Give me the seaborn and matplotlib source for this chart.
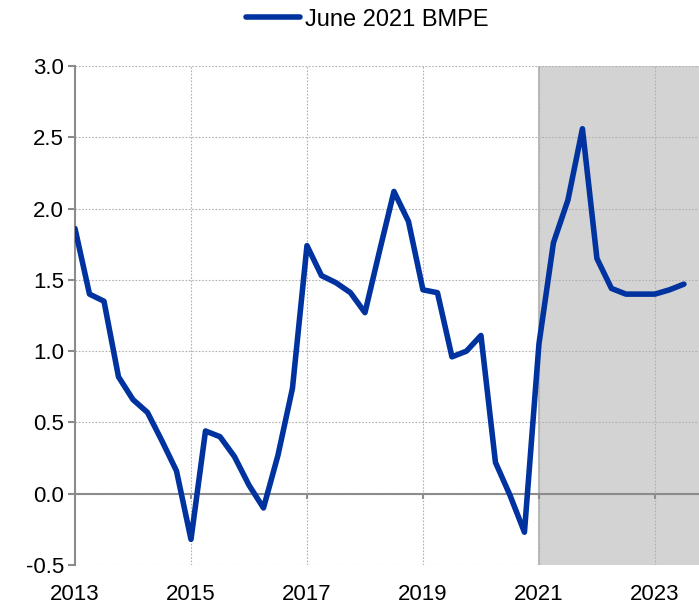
import matplotlib
matplotlib.use("Agg")
import matplotlib.pyplot as plt
import seaborn as sns
import numpy as np
import pandas as pd

# Quarterly data (decimal years)
quarters = [2013.0 + 0.25 * i for i in range(43)]
bmpe = [1.86, 1.40, 1.35, 0.82, 0.66, 0.57, 0.37, 0.16,
        -0.32, 0.44, 0.40, 0.26, 0.06, -0.10, 0.27, 0.74,
        1.74, 1.53, 1.48, 1.41, 1.27, 1.70, 2.12, 1.91,
        1.43, 1.41, 0.96, 1.00, 1.11, 0.22, -0.01, -0.27,
        1.05, 1.76, 2.06, 2.56, 1.65, 1.44, 1.40, 1.40,
        1.40, 1.43, 1.47]
series_name = "June 2021 BMPE"
xtick_vals = [2013, 2015, 2017, 2019, 2021, 2023]
ytick_vals = [-0.5, 0.0, 0.5, 1.0, 1.5, 2.0, 2.5, 3.0]
shade_start = 2021.0

df = pd.DataFrame({"year": quarters, "value": bmpe, "series": series_name})

sns.set_theme(style="white")
plt.rcParams['font.family'] = ['Liberation Sans', 'DejaVu Sans']
plt.rcParams['text.color'] = 'black'
plt.rcParams['xtick.labelcolor'] = 'black'
plt.rcParams['ytick.labelcolor'] = 'black'

fig = plt.figure(figsize=(6.99, 6.06), dpi=100)
ax = fig.add_axes([75/699, 1 - 565/606, 1 - 75/699, (565 - 66)/606])

xmax = 2023.76
ax.axvspan(shade_start, xmax, color="#d3d3d3", zorder=0, lw=0)
ax.axvline(shade_start, color="#bbbbbb", lw=1.5, zorder=0.5)

sns.lineplot(data=df, x="year", y="value", hue="series", palette=["#00339f"],
             lw=4, ax=ax, zorder=5, solid_joinstyle="round", solid_capstyle="round")

ax.set_xlim(2013, xmax)
ax.set_ylim(-0.5, 3.0)
ax.set_xticks(xtick_vals)
ax.set_yticks(ytick_vals)
ax.set_yticklabels([f"{v:.1f}" for v in ytick_vals])
ax.set_xlabel("")
ax.set_ylabel("")

ax.grid(True, color="#b0b0b0", linestyle=(0, (1.5, 1.5)), lw=0.8, zorder=1)
ax.set_axisbelow(True)
ax.axhline(0, color="#8c8c8c", lw=1.5, zorder=2)
ax.vlines(xtick_vals[1:], -0.035, 0, color="#8c8c8c", lw=1.5, zorder=2)

for s in ["top", "right", "bottom"]:
    ax.spines[s].set_visible(False)
ax.spines["left"].set_color("#8c8c8c")
ax.spines["left"].set_linewidth(1.5)

ax.tick_params(axis="y", left=True, length=5, width=1.5, color="#8c8c8c",
               labelsize=16, pad=3)
ax.tick_params(axis="x", bottom=False, labelsize=16, pad=8)

leg = ax.legend(loc="lower center", bbox_to_anchor=(0.468, 1.052), frameon=False,
                fontsize=17, handlelength=2.3, handletextpad=0.2, borderaxespad=0)
for line in leg.get_lines():
    line.set_linewidth(4)

fig.savefig("out.png", dpi=100)
